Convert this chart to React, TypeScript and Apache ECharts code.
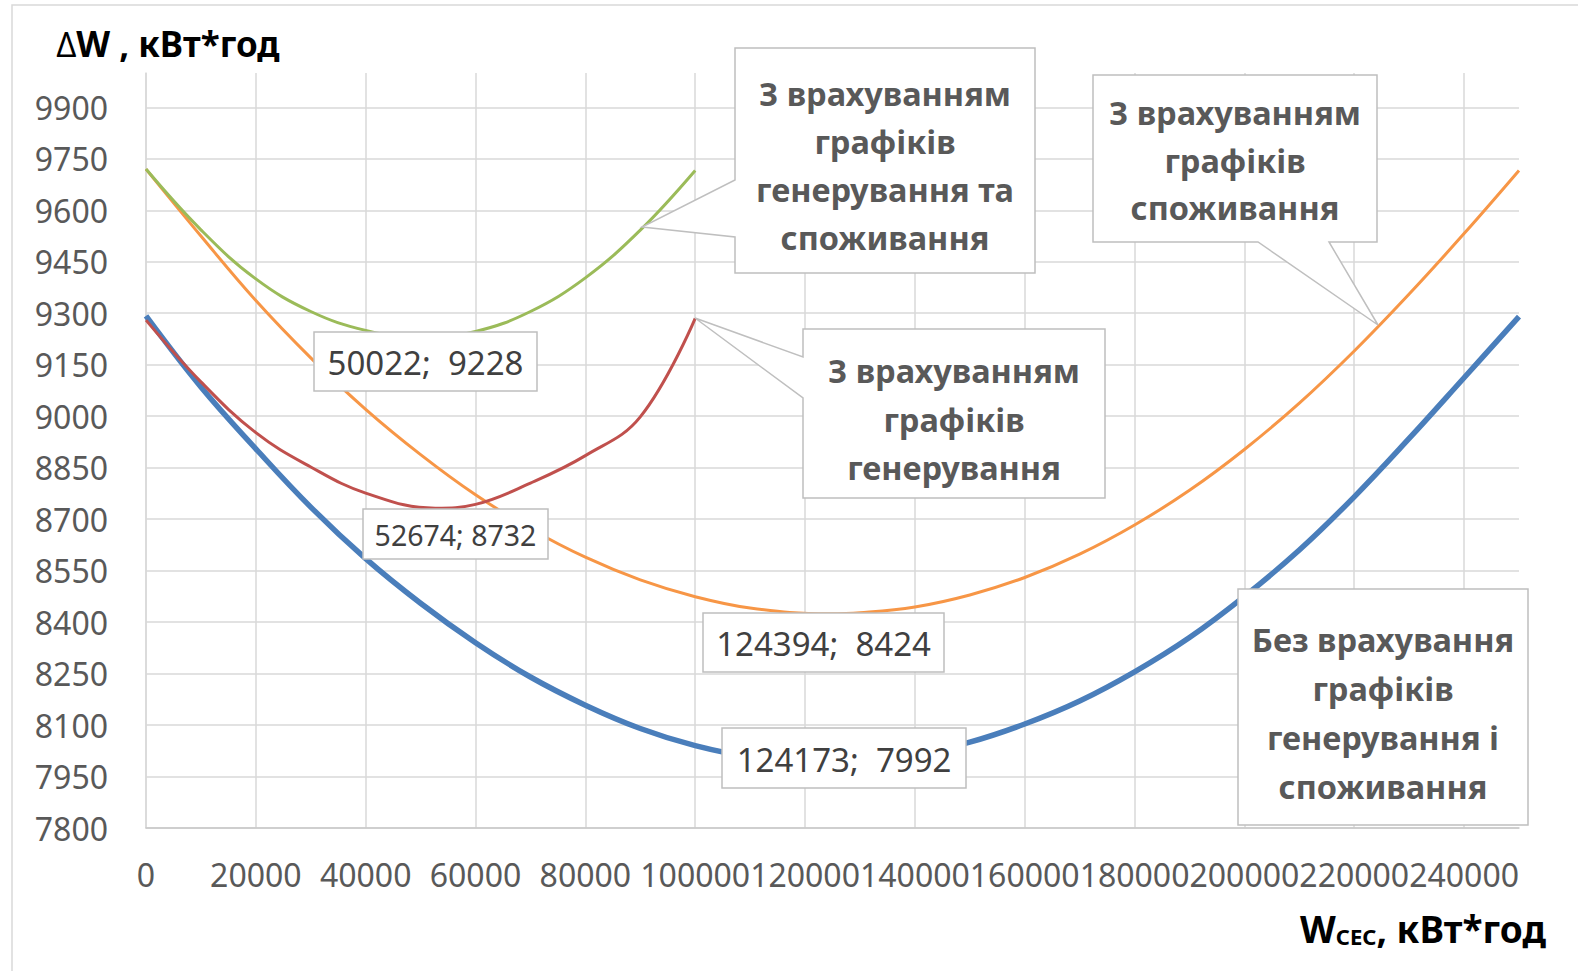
import React, { useEffect, useRef } from "react";
import * as echarts from "echarts";

const FONT = "'Noto Sans', 'Open Sans', 'DejaVu Sans', sans-serif";

// Axis settings
const X_MIN = 0;
const X_MAX = 250000;
const X_STEP = 20000;
const Y_MIN = 7800;
const Y_MAX = 10000;
const Y_STEP = 150;

// Series 1: Без врахування графіків генерування і споживання (blue)
const blueX = [0, 10000, 20000, 30000, 40000, 50000, 60000, 70000, 80000, 90000, 100000, 110000, 124173, 130000, 140000, 150000, 160000, 170000, 180000, 190000, 200000, 210000, 220000, 230000, 240000, 250000];
const blueY = [9292, 9085, 8905, 8735, 8585, 8455, 8340, 8240, 8158, 8090, 8040, 8008, 7992, 7995, 8013, 8050, 8103, 8170, 8255, 8355, 8475, 8610, 8765, 8935, 9112, 9290];

// Series 2: З врахуванням графіків споживання (orange)
const orangeX = [0, 10000, 20000, 30000, 40000, 50000, 60000, 70000, 80000, 90000, 100000, 110000, 124394, 130000, 140000, 150000, 160000, 170000, 180000, 190000, 200000, 210000, 220000, 230000, 240000, 250000];
const orangeY = [9720, 9525, 9337, 9170, 9020, 8888, 8771, 8672, 8589, 8523, 8474, 8441, 8424, 8427, 8444, 8479, 8530, 8598, 8683, 8784, 8903, 9038, 9190, 9356, 9532, 9716];

// Series 3: З врахуванням графіків генерування (red)
const redX = [0, 10000, 20000, 30000, 40000, 52674, 60000, 70000, 80000, 90000, 100000];
const redY = [9280, 9100, 8952, 8852, 8776, 8732, 8743, 8805, 8885, 8998, 9285];

// Series 4: З врахуванням графіків генерування та споживання (green)
const greenX = [0, 10000, 20000, 30000, 40000, 50022, 60000, 70000, 80000, 90000, 100000];
const greenY = [9720, 9543, 9400, 9305, 9250, 9228, 9247, 9305, 9403, 9542, 9716];

// Optimum labels
const optX = [50022, 52674, 124394, 124173];
const optY = [9228, 8732, 8424, 7992];
const optSep = [";  ", "; ", ";  ", ";  "];

// Callout texts
const textBlue = "Без врахування\nграфіків\nгенерування і\nспоживання";
const textOrange = "З врахуванням\nграфіків\nспоживання";
const textRed = "З врахуванням\nграфіків\nгенерування";
const textGreen = "З врахуванням\nграфіків\nгенерування та\nспоживання";

const zip = (xs: number[], ys: number[]) => xs.map((x, i) => [x, ys[i]]);

const calloutStyle = { fill: "#ffffff", stroke: "#bfbfbf", lineWidth: 1.5 };

function callout(points: number[][], text: string, cx: number, cy: number, lh: number) {
  return [
    { type: "polygon", z: 100, shape: { points }, style: { ...calloutStyle } },
    {
      type: "text",
      z: 101,
      x: cx,
      y: cy,
      style: {
        text,
        fontFamily: FONT,
        fontWeight: "bold",
        fontSize: 32.5,
        fill: "#595959",
        align: "center",
        verticalAlign: "middle",
        lineHeight: lh,
      },
    },
  ];
}

function dataLabel(i: number, l: number, t: number, r: number, b: number, fs: number) {
  return [
    {
      type: "rect",
      z: 100,
      shape: { x: l, y: t, width: r - l, height: b - t },
      style: { ...calloutStyle },
    },
    {
      type: "text",
      z: 101,
      x: (l + r) / 2,
      y: (t + b) / 2 + 1,
      style: {
        text: `${optX[i]}${optSep[i]}${optY[i]}`,
        fontFamily: FONT,
        fontSize: fs,
        fill: "#404040",
        align: "center",
        verticalAlign: "middle",
      },
    },
  ];
}

export default function App() {
  const ref = useRef<HTMLDivElement>(null);
  useEffect(() => {
    document.body.style.margin = "0";
    document.body.style.overflow = "hidden";
    const chart = echarts.init(ref.current!, null, { renderer: "svg" });
    const axisLabelStyle = { fontFamily: FONT, fontSize: 32, color: "#595959" };
    const option: any = {
      animation: false,
      backgroundColor: "#ffffff",
      grid: {
        left: 146,
        right: 59,
        top: 73,
        bottom: 143,
        containLabel: false,
        outerBoundsMode: "none",
      },
      xAxis: {
        type: "value",
        min: X_MIN,
        max: X_MAX,
        interval: X_STEP,
        axisLine: { show: true, lineStyle: { color: "#c8c8c8", width: 1.5 } },
        axisTick: { show: false },
        axisLabel: {
          ...axisLabelStyle,
          margin: 30,
          showMaxLabel: false,
          hideOverlap: false,
          formatter: (v: number) => String(v),
        },
        splitLine: { show: true, showMaxLine: false, lineStyle: { color: "#d9d9d9", width: 1.5 } },
      },
      yAxis: {
        type: "value",
        min: Y_MIN,
        max: Y_MAX,
        interval: Y_STEP,
        axisLine: { show: true, lineStyle: { color: "#d9d9d9", width: 1.5 } },
        axisTick: { show: false },
        axisLabel: {
          ...axisLabelStyle,
          margin: 38,
          showMaxLabel: false,
          formatter: (v: number) => String(v),
        },
        splitLine: { show: true, showMaxLine: false, lineStyle: { color: "#d9d9d9", width: 1.5 } },
      },
      series: [
        {
          name: "Без врахування графіків генерування і споживання",
          type: "line",
          data: zip(blueX, blueY),
          showSymbol: false,
          smooth: 0.4,
          lineStyle: { color: "#4a7ebb", width: 5.5 },
          itemStyle: { color: "#4a7ebb" },
        },
        {
          name: "З врахуванням графіків споживання",
          type: "line",
          data: zip(orangeX, orangeY),
          showSymbol: false,
          smooth: 0.4,
          lineStyle: { color: "#f79646", width: 3 },
          itemStyle: { color: "#f79646" },
        },
        {
          name: "З врахуванням графіків генерування",
          type: "line",
          data: zip(redX, redY),
          showSymbol: false,
          smooth: 0.4,
          lineStyle: { color: "#c0504d", width: 3 },
          itemStyle: { color: "#c0504d" },
        },
        {
          name: "З врахуванням графіків генерування та споживання",
          type: "line",
          data: zip(greenX, greenY),
          showSymbol: false,
          smooth: 0.4,
          lineStyle: { color: "#9bbb59", width: 3 },
          itemStyle: { color: "#9bbb59" },
        },
      ],
      graphic: [
        {
          type: "rect",
          z: 0,
          shape: { x: 12, y: 5, width: 1600, height: 1000 },
          style: { fill: "none", stroke: "#d9d9d9", lineWidth: 1.5 },
        },
        {
          type: "text",
          z: 101,
          x: 56,
          y: 43,
          style: {
            text: "{d|∆}{w|W , кВт*год}",
            verticalAlign: "middle",
            align: "left",
            rich: {
              d: { fontFamily: FONT, fontSize: 35, fontWeight: "normal", fill: "#000" },
              w: { fontFamily: FONT, fontSize: 35, fontWeight: "bold", fill: "#000" },
            },
          },
        },
        {
          type: "text",
          z: 101,
          x: 1546,
          y: 925,
          style: {
            text: "{w|W}{s|СЕС}{w|, кВт*год}",
            verticalAlign: "middle",
            align: "right",
            rich: {
              w: { fontFamily: FONT, fontSize: 37, fontWeight: "bold", fill: "#000", verticalAlign: "bottom", lineHeight: 44 },
              s: { fontFamily: FONT, fontSize: 22, fontWeight: "bold", fill: "#000", verticalAlign: "bottom", lineHeight: 31 },
            },
          },
        },
        ...callout(
          [[735, 48], [1035, 48], [1035, 273], [735, 273], [735, 237], [642, 227], [735, 180]],
          textGreen, 885, 165, 48
        ),
        ...callout(
          [[803, 329], [1105, 329], [1105, 498], [803, 498], [803, 398], [695, 318], [803, 357]],
          textRed, 954, 419, 48.5
        ),
        ...callout(
          [[1093, 75], [1377, 75], [1377, 242], [1329, 242], [1378, 325], [1258, 242], [1093, 242]],
          textOrange, 1235, 160, 47.5
        ),
        ...callout(
          [[1238, 589], [1528, 589], [1528, 825], [1238, 825]],
          textBlue, 1383, 713, 49
        ),
        ...dataLabel(0, 314, 332, 537, 391, 33),
        ...dataLabel(1, 363, 509, 548, 559, 28.5),
        ...dataLabel(2, 703, 613, 944, 672, 33),
        ...dataLabel(3, 722, 728, 966, 788, 33),
      ],
    };
    chart.setOption(option);
    return () => chart.dispose();
  }, []);
  return <div ref={ref} style={{ width: 1578, height: 971 }} />;
}
